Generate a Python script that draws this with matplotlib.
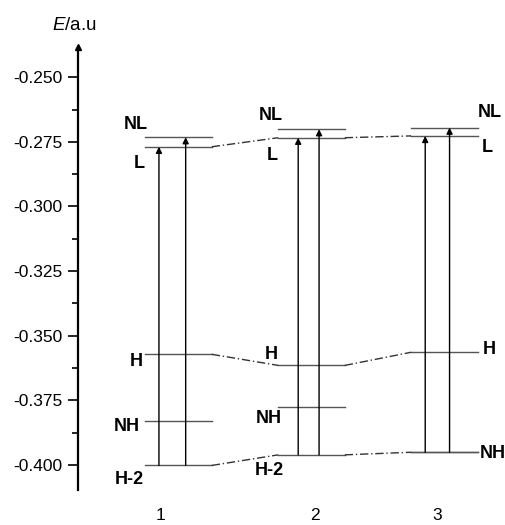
import matplotlib.pyplot as plt
import numpy as np

plt.rcParams['font.family'] = ['Liberation Sans', 'DejaVu Sans']
plt.rcParams['axes.unicode_minus'] = False
plt.rcParams['mathtext.fontset'] = 'custom'
plt.rcParams['mathtext.it'] = 'Liberation Sans:italic'
plt.rcParams['mathtext.rm'] = 'Liberation Sans'

# orbital energies (a.u.) for the three systems
systems = [1, 2, 3]
nl = [-0.2732, -0.2701, -0.2695]
lumo = [-0.2769, -0.2734, -0.2727]
homo = [-0.3572, -0.3615, -0.3564]
nh = [-0.3830, -0.3777, -0.3951]
h2 = [-0.4002, -0.3961, -0.3951]
sys_labels = ["1", "2", "3"]
yticks = [-0.250, -0.275, -0.300, -0.325, -0.350, -0.375, -0.400]

fig = plt.figure(figsize=(5.06, 5.25), dpi=100)
ax = fig.add_axes([78/506, 35/525, 428/506, 443/525])

half = 0.25
line_kw = dict(color='#555555', lw=1.0)
for x, a, b, c, d, e in zip(systems, nl, lumo, homo, nh, h2):
    for e_lvl in (a, b, c, d, e):
        ax.plot([x - half, x + half], [e_lvl, e_lvl], **line_kw)

# dash-dot connectors between neighbouring systems
for i in range(len(systems) - 1):
    for lev in (lumo, homo, h2):
        ax.plot([systems[i] + half, systems[i + 1] - half], [lev[i], lev[i + 1]],
                color='#333333', lw=1.0, ls=(0, (6, 2, 1, 2)))

# excitation arrows: left one to L, right one to NL
left_off = [-0.147, -0.10, -0.145]
right_off = [0.054, 0.057, 0.038]
arrow_kw = dict(arrowstyle='-|>', mutation_scale=9, lw=1.0, color='black',
                shrinkA=0, shrinkB=0)
for x, lo, ro, a, b, e in zip(systems, left_off, right_off, nl, lumo, h2):
    ax.annotate('', xy=(x + lo, b), xytext=(x + lo, e), arrowprops=arrow_kw)
    ax.annotate('', xy=(x + ro, a), xytext=(x + ro, e), arrowprops=arrow_kw)

# level labels
lab_kw = dict(textcoords='offset pixels', fontsize=13, fontweight='bold', va='center')
for x, a, b, c, d, e, off in zip(
        systems[:2], nl, lumo, homo, nh, h2,
        [[(3, 13), (0, -17), (-2, -7), (-5, -6), (-1, -14)],
         [(5, 14), (0, -18), (0, 11), (4, -11), (6, -16)]]):
    for txt, lvl, o in zip(["NL", "L", "H", "NH", "H-2"], (a, b, c, d, e), off):
        ax.annotate(txt, xy=(x - half, lvl), xytext=o, ha='right', **lab_kw)
x3 = systems[2] + half
for txt, lvl, o in zip(["NL", "L", "H", "NH"], (nl[2], lumo[2], homo[2], nh[2]),
                       [(0, 15), (4, -12), (5, 3), (2, -1)]):
    ax.annotate(txt, xy=(x3, lvl), xytext=o, ha='left', **lab_kw)

ax.set_xlim(0.2444, 3.4624)
ax.set_ylim(-0.4097, -0.2383)
ax.set_yticks(yticks)
ax.set_yticklabels(['%.3f' % v for v in yticks])
ax.set_yticks(np.array(yticks[:-1]) - 0.0125, minor=True)
ax.tick_params(axis='y', which='major', length=7, width=1.2, labelsize=12.5, pad=4)
ax.tick_params(axis='y', which='minor', length=4, width=1.2)
ax.set_xticks([0.861, 2.026, 2.944])
ax.set_xticklabels(sys_labels)
ax.tick_params(axis='x', length=0, labelsize=12.5, pad=13)
for s in ('top', 'right', 'bottom'):
    ax.spines[s].set_visible(False)
ax.spines['left'].set_linewidth(1.6)
ax.plot(0, 1, marker='^', color='black', markersize=5, transform=ax.transAxes,
        clip_on=False)
fig.text(52/506, 1 - 25/525, r'$E$/a.u', fontsize=13.5, va='center', ha='left')

fig.savefig('out.png', dpi=100)
